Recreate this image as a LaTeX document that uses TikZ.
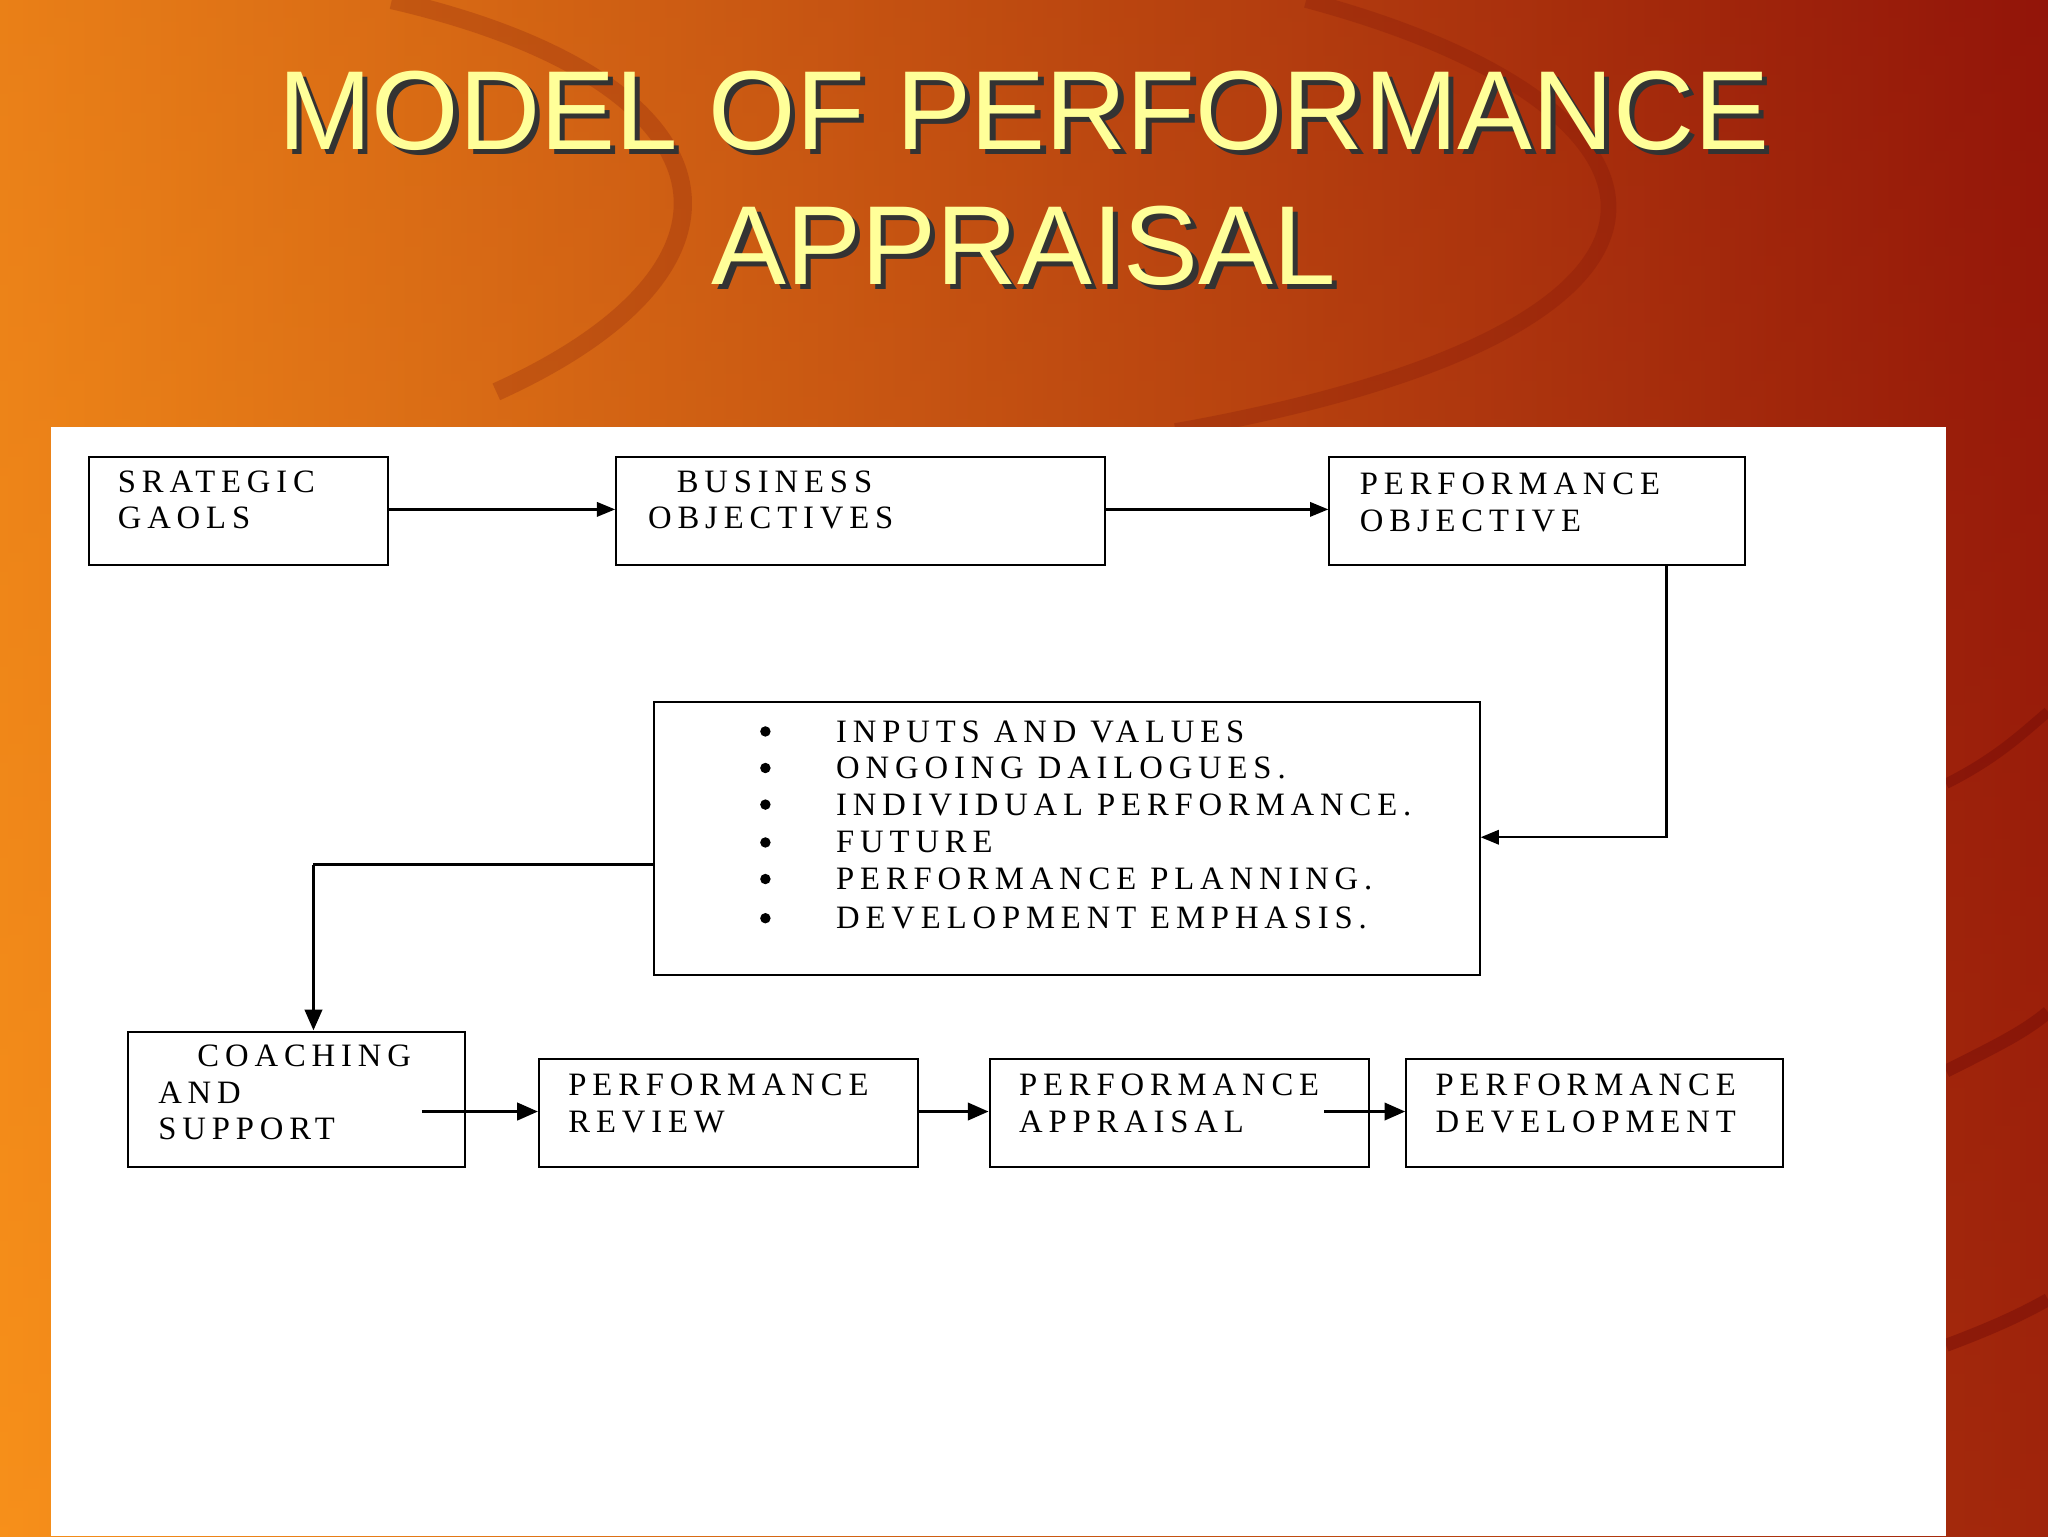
\documentclass[tikz,border=0pt]{standalone}
\usepackage{fontspec}
\setmainfont[LetterSpace=18]{Liberation Serif}
\newfontfamily\titlefont{Liberation Sans}
\usetikzlibrary{arrows.meta}
\definecolor{ttl}{HTML}{FFFF99}
\definecolor{bgA}{HTML}{F7901A}
\definecolor{bgB}{HTML}{8A0A08}
\begin{document}
\begin{tikzpicture}[x=1pt,y=-1pt,
  bx/.style={draw,line width=1.6pt,fill=white},
  lbl/.style={font=\fontsize{25}{28}\selectfont,align=left,anchor=north west,inner sep=0},
  ar/.style={line width=1.8pt,-{Triangle[length=14pt,width=11pt]}},
  arb/.style={line width=3pt,-{Triangle[length=16pt,width=13pt]}},
  ln/.style={line width=1.8pt}]
\useasboundingbox (0,0) rectangle (1568,1176);
\shade[bottom color=bgA,top color=bgB!60!bgA,shading angle=0] (0,0) rectangle (1568,1176);
\shade[left color=bgA,right color=bgB,opacity=0.8] (0,0) rectangle (1568,1176);
\draw[bgB!80!black,opacity=0.2,line width=14pt] (380,300) .. controls (600,200) and (560,60) .. (300,0);
\draw[bgB!80!black,opacity=0.2,line width=12pt] (900,330) .. controls (1350,250) and (1300,80) .. (1000,0);
\draw[bgB!80!black,opacity=0.4,line width=10pt] (1490,1030) .. controls (1530,1015) and (1550,1005) .. (1568,995);
\draw[bgB!80!black,opacity=0.4,line width=10pt] (1490,820) .. controls (1530,800) and (1550,790) .. (1568,775);
\draw[bgB!80!black,opacity=0.4,line width=8pt] (1490,600) .. controls (1530,580) and (1550,560) .. (1568,545);
\fill[white] (39,327) rectangle (1490,1176);
\foreach \yy/\t in {85/{MODEL OF PERFORMANCE},188/{APPRAISAL}}{
  \node[font=\titlefont\fontsize{86}{90}\selectfont,text=black!80] at (788,\yy+4) {\t};
  \node[font=\titlefont\fontsize{86}{90}\selectfont,text=ttl] (t\yy) at (784,\yy) {\t};}
\node[bx,minimum width=229,minimum height=83,anchor=north west] (sg) at (67,349) {};
\node[lbl] at (90,360) {SRATEGIC\\GAOLS};
\node[bx,minimum width=374,minimum height=83,anchor=north west] (bo) at (471,349) {};
\node[lbl] at (496,360) {\hspace{22pt}BUSINESS\\OBJECTIVES};
\node[bx,minimum width=318,minimum height=83,anchor=north west] (po) at (1017,349) {};
\node[lbl] at (1041,362) {PERFORMANCE\\OBJECTIVE};
\node[bx,minimum width=632,minimum height=209,anchor=north west] (mid) at (500,537) {};
\foreach \yy/\t in {560/INPUTS AND VALUES,588/ONGOING DAILOGUES.,616/INDIVIDUAL PERFORMANCE.,645/FUTURE,673/PERFORMANCE PLANNING.,703/DEVELOPMENT EMPHASIS.}{
  \fill (586,\yy) circle (4);
  \node[lbl,anchor=west] at (640,\yy) {\t};}
\node[bx,minimum width=258,minimum height=104,anchor=north west] (cs) at (97,789) {};
\node[lbl] at (121,800) {\hspace{30pt}COACHING\\AND\\SUPPORT};
\node[bx,minimum width=290,minimum height=83,anchor=north west] (pr) at (412,810) {};
\node[lbl] at (435,822) {PERFORMANCE\\REVIEW};
\node[bx,minimum width=290,minimum height=83,anchor=north west] (pa) at (757,810) {};
\node[lbl] at (780,822) {PERFORMANCE\\APPRAISAL};
\node[bx,minimum width=288,minimum height=83,anchor=north west] (pd) at (1076,810) {};
\node[lbl] at (1099,822) {PERFORMANCE\\DEVELOPMENT};
\draw[ar] (sg.east|-0,390) -- (bo.west|-0,390);
\draw[ar] (bo.east|-0,390) -- (po.west|-0,390);
\draw[ar] (1276,432) |- (mid.east|-0,641);
\draw[ln] (mid.west|-0,662) -- (240,662);
\draw[arb] (240,662) -- (cs.north-|240,0);
\coordinate (c1) at (323,851);
\coordinate (c2) at (1014,851);
\draw[arb] (c1) -- (pr.west|-c1);
\draw[arb] (pr.east|-c1) -- (pa.west|-c1);
\draw[arb] (c2) -- (pd.west|-c2);
\end{tikzpicture}
\end{document}
